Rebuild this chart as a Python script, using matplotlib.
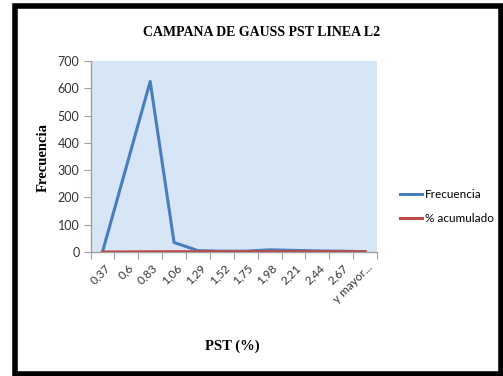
import matplotlib
matplotlib.use("Agg")
import matplotlib.pyplot as plt
from matplotlib.patches import Rectangle
import numpy as np

# Histogram bins (PST %) and counts
categories = ["0,37", "0,6", "0,83", "1,06", "1,29", "1,52", "1,75",
              "1,98", "2,21", "2,44", "2,67", "y mayor..."]
frecuencia = [0, 312, 625, 35, 5, 3, 3, 8, 6, 4, 3, 1]
acumulado = [0.0, 0.31, 0.93, 0.97, 0.975, 0.978, 0.981, 0.989, 0.995, 0.998, 0.999, 1.0]
y_ticks = [0, 100, 200, 300, 400, 500, 600, 700]

W, H = 503, 376
fig = plt.figure(figsize=(W / 100, H / 100), dpi=100)
fig.patch.set_facecolor("white")

# black frame around the chart
fig.patches.append(Rectangle((14.5 / W, 2.5 / H), (501 - 14.5) / W, (370 - 2.5) / H,
                             transform=fig.transFigure, fill=False,
                             edgecolor="black", linewidth=4))

ax = fig.add_axes([90.5 / W, 1 - 252 / H, (377 - 90.5) / W, (252 - 61) / H])
ax.set_facecolor("#d6e6f6")

x = np.arange(len(categories))
ax.plot(x, frecuencia, color="#4a7ebb", linewidth=2.2, label="Frecuencia", zorder=3)
ax.plot(x, acumulado, color="#be4b48", linewidth=2.2, label="% acumulado", zorder=3)

ax.set_xlim(-0.5, len(categories) - 0.5)
ax.set_ylim(0, 700)
ax.set_yticks(y_ticks)
ax.set_yticklabels([str(v) for v in y_ticks], fontsize=9, family="Lato", color="#333333")

# category ticks sit between categories
ax.set_xticks(np.arange(len(categories) + 1) - 0.5)
ax.set_xticklabels([])
ax.tick_params(axis="x", length=5, color="#a0a0a0", direction="out")
ax.tick_params(axis="y", length=5, color="#a0a0a0", direction="out", pad=3)
for i, lab in enumerate(categories):
    ax.annotate(lab, xy=(i, 0), xycoords=("data", "axes fraction"),
                xytext=(4, -10), textcoords="offset points",
                rotation=45, rotation_mode="anchor", ha="right", va="center",
                fontsize=8.5, family="Lato", color="#333333")

for side in ("top", "right"):
    ax.spines[side].set_visible(False)
for side in ("left", "bottom"):
    ax.spines[side].set_color("#a0a0a0")
    ax.spines[side].set_linewidth(1)

fig.text(262 / W, 1 - 33 / H, "CAMPANA DE GAUSS PST LINEA L2", ha="center", va="center",
         fontsize=10, fontweight="bold", family="Liberation Serif")
fig.text(43 / W, 1 - 157 / H, "Frecuencia", ha="center", va="center", rotation=90,
         fontsize=10.5, fontweight="bold", family="Liberation Serif")
fig.text(232 / W, 1 - 346 / H, "PST (%)", ha="center", va="center",
         fontsize=10.5, fontweight="bold", family="Liberation Serif")

leg = fig.legend(loc="upper left", bbox_to_anchor=(395 / W, 1 - 184 / H), frameon=False,
                 prop={"family": "Lato", "size": 8.5}, handlelength=1.9, handletextpad=0.2,
                 labelspacing=1.1, borderaxespad=0)

fig.savefig("out.png", dpi=100)
